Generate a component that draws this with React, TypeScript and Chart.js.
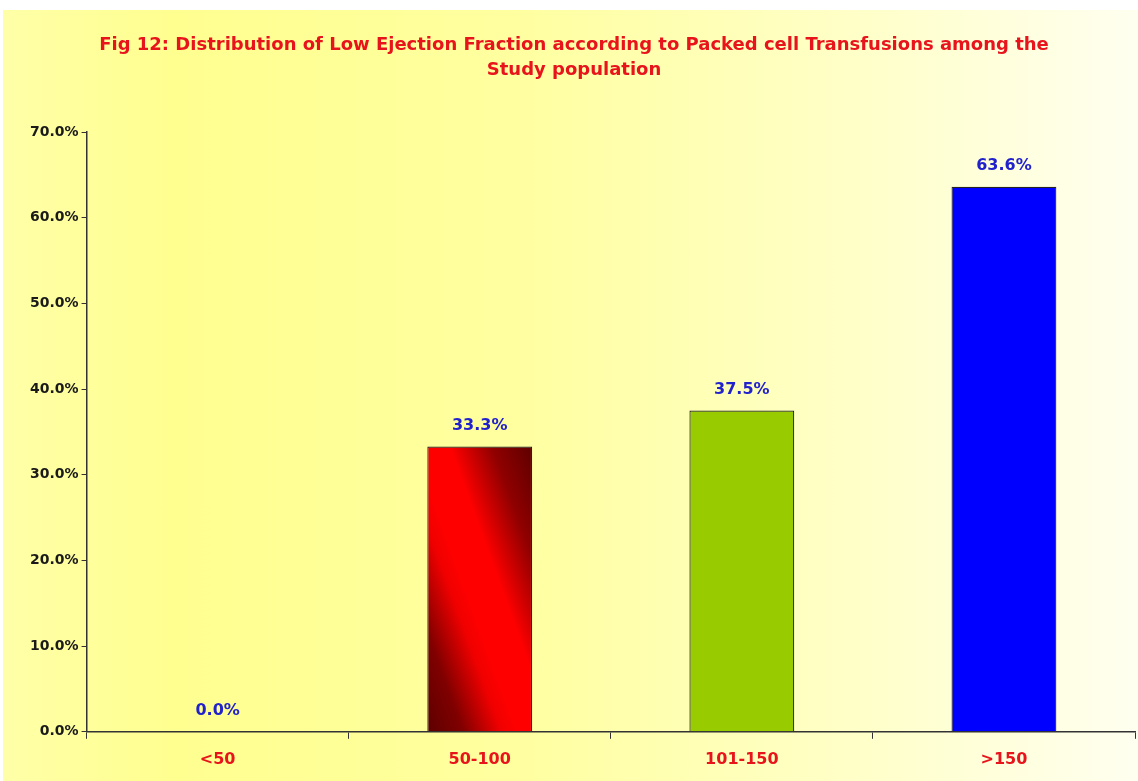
import React, { useEffect, useRef } from "react";
import { Chart, registerables } from "chart.js";

Chart.register(...registerables);

const categories = ["<50", "50-100", "101-150", ">150"];
const values = [0.0, 33.3, 37.5, 63.6];
const barColors = ["#ff0000", "#ff0000", "#99cc00", "#0000ff"];
const yTicks = [0, 10, 20, 30, 40, 50, 60, 70];
const titleLines = [
  "Fig 12: Distribution of Low Ejection Fraction according to Packed cell Transfusions among the",
  "Study population",
];

const FONT = "'DejaVu Sans', Verdana, sans-serif";
const BAR_PCT = 0.4;

const valueLabels = {
  id: "valueLabels",
  afterDatasetsDraw(chart: any) {
    const ctx = chart.ctx;
    const meta = chart.getDatasetMeta(0);
    ctx.save();
    ctx.font = `bold 16px ${FONT}`;
    ctx.fillStyle = "#2222cc";
    ctx.textAlign = "center";
    ctx.textBaseline = "middle";
    meta.data.forEach((el: any, i: number) => {
      ctx.fillText(values[i].toFixed(1) + "%", el.x, el.y - 21);
    });
    ctx.restore();
  },
};

const titleDraw = {
  id: "titleDraw",
  afterDraw(chart: any) {
    const ctx = chart.ctx;
    ctx.save();
    ctx.font = `bold 18px ${FONT}`;
    ctx.fillStyle = "#e8141c";
    ctx.textAlign = "center";
    ctx.textBaseline = "middle";
    titleLines.forEach((line, k) => {
      ctx.fillText(line, 574, 45 + k * 25);
    });
    ctx.restore();
  },
};

function barFill(context: any) {
  const i = context.dataIndex;
  const chart = context.chart;
  if (i !== 1) return barColors[i];
  const xs = chart.scales.x;
  const ys = chart.scales.y;
  if (!xs || !ys || !chart.chartArea) return barColors[i];
  const cx = xs.getPixelForValue(i);
  const catW = (chart.chartArea.right - chart.chartArea.left) / categories.length;
  const w = catW * BAR_PCT;
  const left = cx - w / 2;
  const right = cx + w / 2;
  const top = ys.getPixelForValue(values[i]);
  const bottom = ys.getPixelForValue(0);
  const h = bottom - top;
  const midY = (top + bottom) / 2;
  const tilt = h * 0.12;
  const g = chart.ctx.createLinearGradient(left - w * 0.4, midY + tilt, right + w * 0.4, midY - tilt);
  g.addColorStop(0, "#5a0000");
  g.addColorStop(0.18, "#800000");
  g.addColorStop(0.36, "#f00000");
  g.addColorStop(0.44, "#ff0000");
  g.addColorStop(0.6, "#ff0000");
  g.addColorStop(0.8, "#900000");
  g.addColorStop(1, "#5a0000");
  return g;
}

export default function App() {
  const ref = useRef<HTMLCanvasElement>(null);
  useEffect(() => {
    if (!ref.current) return;
    const chart = new Chart(ref.current, {
      type: "bar",
      data: {
        labels: categories,
        datasets: [
          {
            data: values,
            backgroundColor: barFill as any,
            borderColor: "#222222",
            borderWidth: 1.2,
            barPercentage: BAR_PCT,
            categoryPercentage: 1,
          },
        ],
      },
      options: {
        responsive: false,
        animation: false,
        layout: { padding: { top: 132, left: 27, right: 3, bottom: 1 } },
        plugins: {
          legend: { display: false },
          tooltip: { enabled: false },
          title: { display: false },
        },
        scales: {
          x: {
            offset: true,
            grid: {
              offset: true,
              drawOnChartArea: false,
              drawTicks: true,
              tickLength: 7,
              color: "#333333",
            },
            border: { color: "#333333", width: 1.5 },
            ticks: {
              color: "#e8141c",
              font: { family: FONT, size: 16, weight: "bold" },
              padding: 11,
            },
          },
          y: {
            min: 0,
            max: 70,
            afterBuildTicks: (axis: any) => {
              axis.ticks = yTicks.map((v) => ({ value: v }));
            },
            grid: {
              drawOnChartArea: false,
              drawTicks: true,
              tickLength: 5,
              color: "#333333",
            },
            border: { color: "#333333", width: 1.5 },
            ticks: {
              color: "#1a1a1a",
              font: { family: FONT, size: 14, weight: "bold" },
              padding: 3,
              callback: (v: any) => Number(v).toFixed(1) + "%",
            },
          },
        },
      },
      plugins: [valueLabels, titleDraw],
    });
    return () => chart.destroy();
  }, []);

  return (
    <div
      style={{
        position: "fixed",
        left: 0,
        top: 0,
        width: 1138,
        height: 781,
        background: "#ffffff",
      }}
    >
      <div
        style={{
          position: "absolute",
          left: 3,
          top: 10,
          right: 0,
          bottom: 0,
          background:
            "linear-gradient(90deg, #ffffa8 0%, #ffff90 15%, #ffffa0 45%, #ffffc8 75%, #fffff0 100%)",
        }}
      />
      <canvas
        ref={ref}
        width={1138}
        height={781}
        style={{ position: "absolute", left: 0, top: 0, width: 1138, height: 781 }}
      />
    </div>
  );
}
